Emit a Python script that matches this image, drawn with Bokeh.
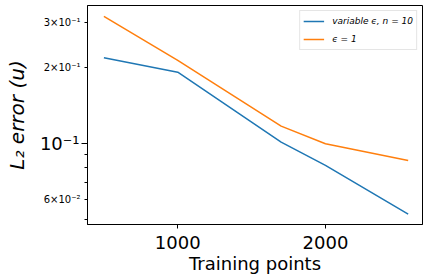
import math
from bokeh.plotting import figure
from bokeh.layouts import row
from bokeh.models import FixedTicker, Legend, LegendItem, Range1d
from bokeh.core.properties import value
from bokeh.embed import file_html
from bokeh.resources import INLINE

# data
training_points = [500, 1000, 1700, 2000, 2560]
err_variable = [0.218, 0.191, 0.101, 0.0816, 0.0523]
err_const = [0.318, 0.2126, 0.1168, 0.0995, 0.0854]
series_labels = ["variable \u03f5, n = 10", "\u03f5 = 1"]
y_small_ticks = [0.3, 0.2, 0.06]
y_small_texts = ["3\u00d710\u207b\u00b9", "2\u00d710\u207b\u00b9", "6\u00d710\u207b\u00b2"]
y_big_ticks = [0.1]
y_big_texts = ["10\u207b\u00b9"]
y_minor = [0.05, 0.06, 0.07, 0.08, 0.09, 0.2, 0.3]
x_ticks = [1000, 2000]
y_label = "L\u2082 error (u)"
x_label = "Training points"

FONT = "DejaVu Sans"
FRAME_H = 219
TOP = 5
Y_LO, Y_HI = 0.0476, 0.351
yr = Range1d(Y_LO, Y_HI)

# main plot
p = figure(frame_width=335, frame_height=FRAME_H, y_axis_type="log",
           x_range=Range1d(389, 2657), y_range=yr,
           output_backend="svg", toolbar_location=None,
           min_border_left=6, min_border_right=1, min_border_top=TOP, min_border_bottom=0)
p.xgrid.visible = False
p.ygrid.visible = False
p.outline_line_color = "black"
p.outline_line_width = 1

xa = p.xaxis[0]
xa.ticker = FixedTicker(ticks=x_ticks, minor_ticks=[])
xa.major_label_text_font = FONT
xa.major_label_text_font_size = "18px"
xa.major_label_text_color = "black"
xa.major_tick_out = 4
xa.major_tick_in = 0
xa.minor_tick_out = 0
xa.major_label_standoff = 7
xa.axis_label = x_label
xa.axis_label_text_font = FONT
xa.axis_label_text_font_size = "18px"
xa.axis_label_text_font_style = "normal"
xa.axis_label_text_color = "black"
xa.axis_label_standoff = 1
xa.axis_line_color = "black"

ya = p.yaxis[0]
ya.ticker = FixedTicker(ticks=y_big_ticks, minor_ticks=y_minor)
ya.major_label_overrides = {t: "" for t in y_big_ticks}
ya.major_label_text_font_size = "1px"
ya.major_label_standoff = 0
ya.major_tick_out = 6
ya.major_tick_in = 0
ya.minor_tick_out = 3
ya.minor_tick_in = 0
ya.axis_line_color = "black"

r1 = p.line(training_points, err_variable, line_color="#1f77b4", line_width=1.5)
r2 = p.line(training_points, err_const, line_color="#ff7f0e", line_width=1.5)

legend = Legend(items=[LegendItem(label=series_labels[0], renderers=[r1]),
                       LegendItem(label=series_labels[1], renderers=[r2])],
                location="top_right", margin=5, padding=3, spacing=4,
                label_text_font=FONT, label_text_font_size="9px",
                label_text_font_style="italic", label_text_color="black",
                label_height=14, glyph_height=14, glyph_width=21, label_standoff=8,
                border_line_color="#cccccc", border_line_width=1,
                background_fill_color="white", background_fill_alpha=0.8)
p.add_layout(legend)

# left strip holding the y tick labels and y axis title (shares the y range)
LW = 81
q = figure(frame_width=LW, frame_height=FRAME_H, y_axis_type="log",
           x_range=Range1d(0, LW), y_range=yr,
           x_axis_location=None, y_axis_location=None,
           output_backend="svg", toolbar_location=None,
           min_border_left=0, min_border_right=0, min_border_top=TOP, min_border_bottom=0)
q.xgrid.visible = False
q.ygrid.visible = False
q.outline_line_color = None

q.text(x=[LW - 1] * len(y_small_ticks), y=y_small_ticks, text=y_small_texts,
       text_align="right", text_baseline="middle",
       text_font=value(FONT), text_font_size=value("10px"), text_color="black")
q.text(x=[LW - 2] * len(y_big_ticks), y=y_big_ticks, text=y_big_texts,
       text_align="right", text_baseline="middle",
       text_font=value(FONT), text_font_size=value("18px"), text_color="black")
q.text(x=[16], y=[math.sqrt(Y_LO * Y_HI)], text=[y_label], angle=math.pi / 2,
       text_align="center", text_baseline="middle",
       text_font=value(FONT), text_font_size=value("20px"),
       text_font_style="italic", text_color="black")

layout = row(q, p, spacing=0)
open("out.html", "w").write(file_html(layout, INLINE))
